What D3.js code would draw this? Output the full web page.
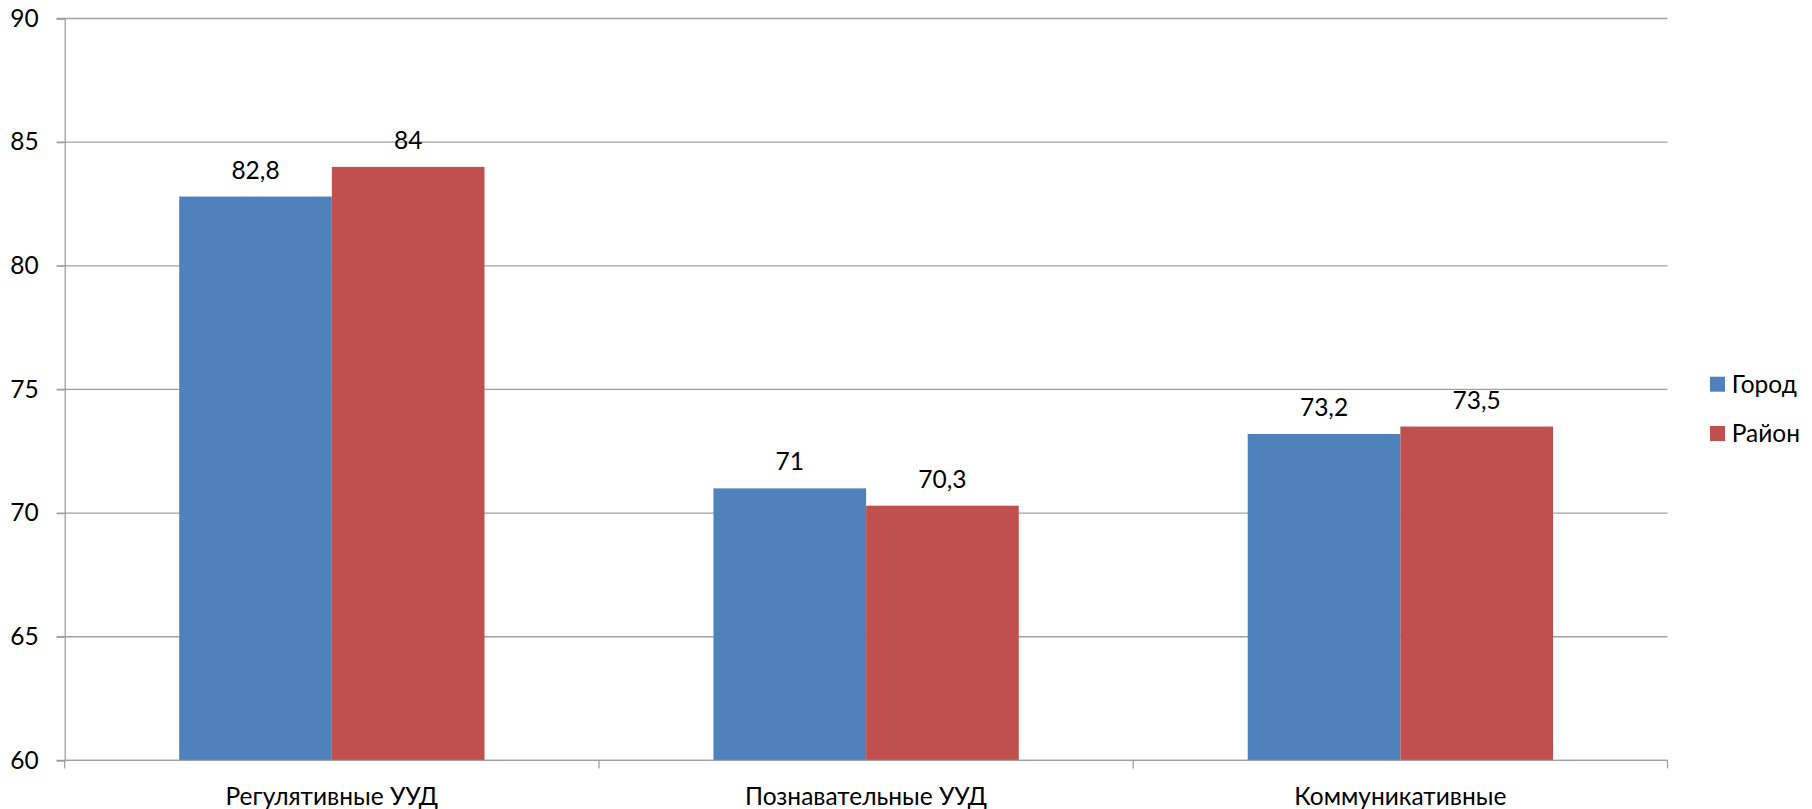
<!DOCTYPE html>
<html><head><meta charset="utf-8">
<script src="https://cdn.jsdelivr.net/npm/d3@7"></script>
<style>html,body{margin:0;padding:0;background:#fff;overflow:hidden}</style>
</head><body>
<svg id="c" width="1812" height="809"></svg>
<script>
const categories = ["Регулятивные УУД", "Познавательные УУД", "Коммуникативные"];
const seriesNames = ["Город", "Район"];
const gorod = [82.8, 71, 73.2];
const rayon = [84, 70.3, 73.5];
const yTicks = [60, 65, 70, 75, 80, 85, 90];
const colors = ["#4F81BD", "#C0504D"];

const font = "Lato, 'Open Sans', sans-serif";
const fs = 24.5;
const svg = d3.select("#c");
const L = 64.7, R = 1667.5, T = 18.5, B = 760.4;
const y = d3.scaleLinear().domain([60, 90]).range([B, T]);
const x0 = d3.scaleBand().domain(categories).range([L, R]).padding(0);
const x1 = d3.scaleBand().domain(seriesNames).range([0, x0.bandwidth()]).paddingInner(0).paddingOuter(0.75);
const grid = "#a0a0a0";

// gridlines
svg.append("g").selectAll("line").data(yTicks).join("line")
  .attr("x1", L - 8).attr("x2", R).attr("y1", d => y(d)).attr("y2", d => y(d))
  .attr("stroke", grid).attr("stroke-width", 1.3);

// y axis
const yAxis = svg.append("g").attr("transform", `translate(${L},0)`)
  .call(d3.axisLeft(y).tickValues(yTicks).tickSize(8).tickPadding(18));
yAxis.select(".domain").attr("stroke", grid).attr("stroke-width", 1.3);
yAxis.selectAll(".tick line").attr("stroke", grid).attr("stroke-width", 1.3);
yAxis.selectAll("text").attr("font-family", font).attr("font-size", fs).attr("fill", "#000");

// bars
const data = categories.map((c, i) => ({c, vals: [gorod[i], rayon[i]]}));
const g = svg.append("g").selectAll("g").data(data).join("g")
  .attr("transform", d => `translate(${x0(d.c)},0)`);
g.selectAll("rect").data(d => d.vals.map((v, j) => ({s: seriesNames[j], v, j}))).join("rect")
  .attr("x", d => x1(d.s)).attr("width", x1.bandwidth())
  .attr("y", d => y(d.v)).attr("height", d => y(60) - y(d.v))
  .attr("fill", d => colors[d.j]);
g.selectAll("text").data(d => d.vals.map((v, j) => ({s: seriesNames[j], v, j}))).join("text")
  .attr("x", d => x1(d.s) + x1.bandwidth() / 2).attr("y", d => y(d.v) - 18)
  .attr("text-anchor", "middle").attr("font-family", font).attr("font-size", fs)
  .text(d => String(d.v).replace(".", ","));

// x axis
const xAxis = svg.append("g").attr("transform", `translate(0,${B})`)
  .call(d3.axisBottom(x0).tickSize(0).tickPadding(0).tickFormat(""));
xAxis.select(".domain").remove();
xAxis.append("line").attr("x1", L).attr("x2", R).attr("stroke", grid).attr("stroke-width", 1.3);
const bounds = [L, ...categories.map(c => x0(c) + x0.bandwidth())];
xAxis.selectAll(".bt").data(bounds).join("line").attr("class", "bt")
  .attr("x1", d => d).attr("x2", d => d).attr("y1", 0).attr("y2", 8)
  .attr("stroke", grid).attr("stroke-width", 1.3);
svg.append("g").selectAll("text").data(categories).join("text")
  .attr("x", d => x0(d) + x0.bandwidth() / 2).attr("y", 805)
  .attr("text-anchor", "middle").attr("font-family", font).attr("font-size", fs)
  .text(d => d);

// legend
const lg = svg.append("g").selectAll("g").data(seriesNames).join("g")
  .attr("transform", (d, i) => `translate(1710,${376.7 + i * 49.3})`);
lg.append("rect").attr("width", 15).attr("height", 15).attr("fill", (d, i) => colors[i]);
lg.append("text").attr("x", 21.7).attr("y", 16).attr("font-family", font).attr("font-size", fs).text(d => d);
</script>
</body></html>
